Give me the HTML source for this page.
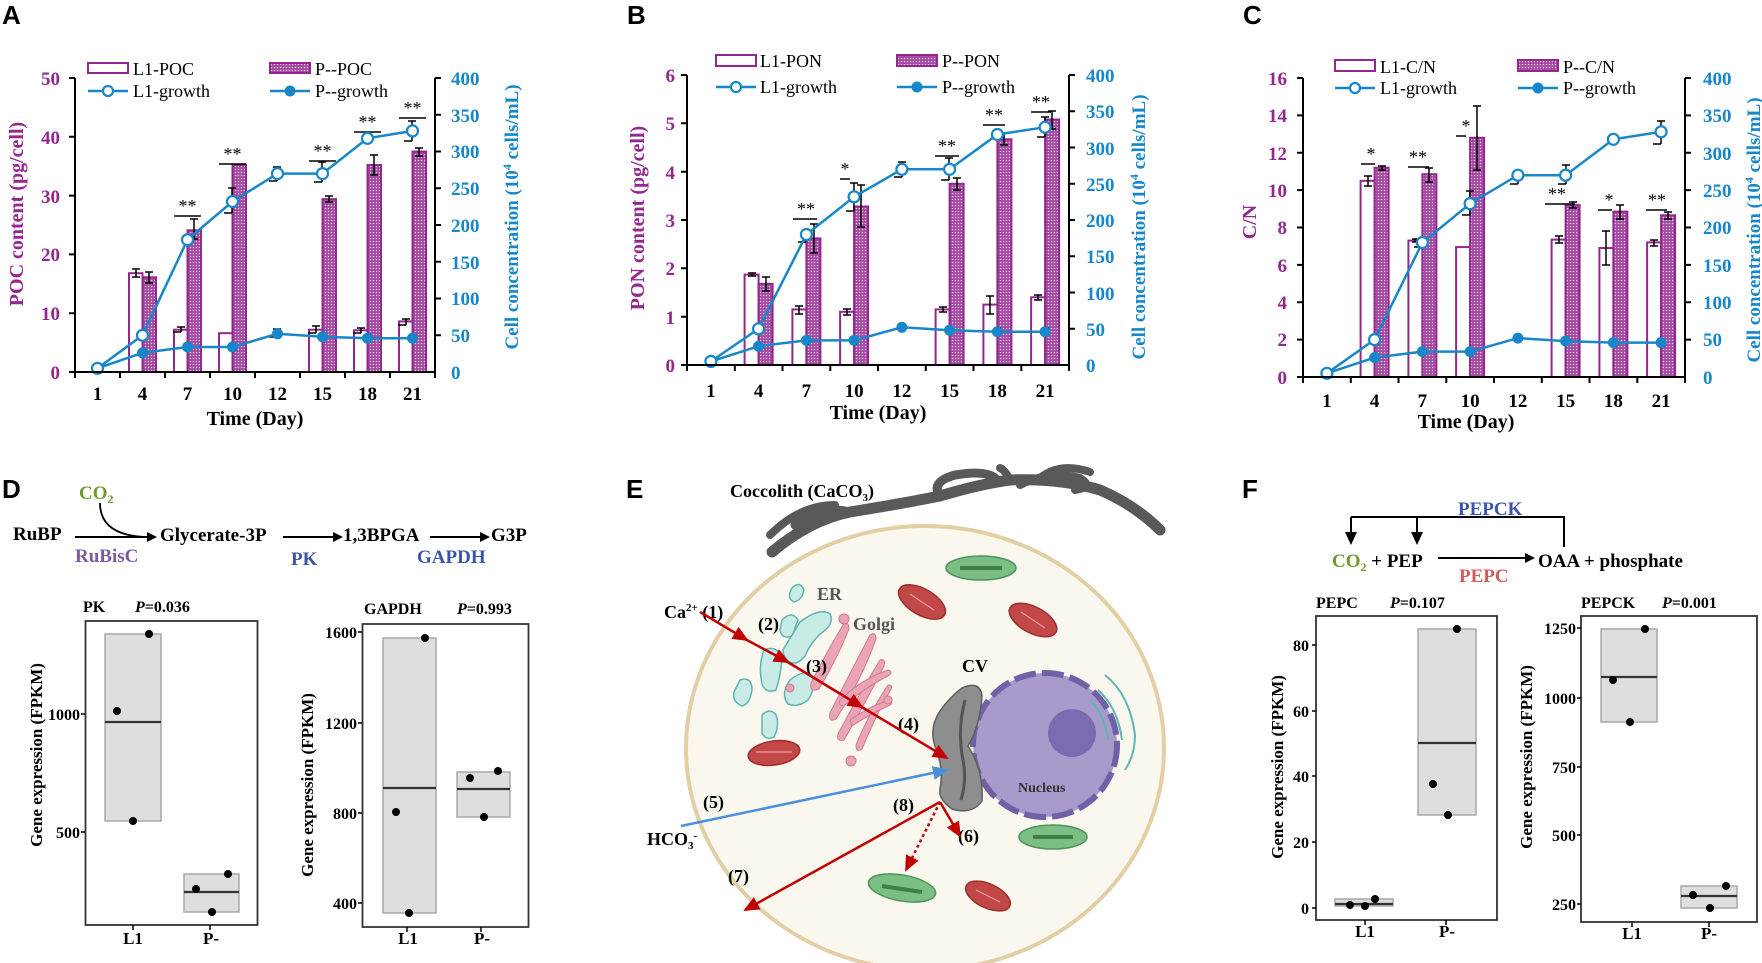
<!DOCTYPE html>
<html><head><meta charset="utf-8"><style>
html,body{margin:0;padding:0;background:#fff;}
svg{display:block;}
.t{font-family:"Liberation Serif",serif;}
.b{font-family:"Liberation Serif",serif;font-weight:bold;}
.pl{fill:#93278F;}
.bl{fill:#1787C9;}
.ax{stroke:#000;stroke-width:2;fill:none;}
.l1{fill:#fff;stroke:#93278F;stroke-width:2;}
.pp{fill:url(#dots);stroke:#93278F;stroke-width:2;}
.gl{fill:none;stroke:#1787C9;stroke-width:2.5;}
.oc{fill:#fff;stroke:#1787C9;stroke-width:2.2;}
.fc{fill:#1787C9;stroke:#1787C9;stroke-width:1;}
.eb{stroke:#000;stroke-width:1.5;fill:none;}
.bx{fill:#DEDEDE;stroke:#A8A8A8;stroke-width:1.5;}
.md{stroke:#333;stroke-width:2.2;}
.fr{fill:none;stroke:#333;stroke-width:1.8;}
</style></head><body>
<svg width="1762" height="963" viewBox="0 0 1762 963" xmlns="http://www.w3.org/2000/svg">
<defs>
<pattern id="dots" width="3" height="3" patternUnits="userSpaceOnUse"><rect width="3" height="3" fill="#A2489F"/><circle cx="1.5" cy="1.5" r="0.8" fill="#E4C4E2"/></pattern>
<marker id="ak" markerWidth="10" markerHeight="10" refX="8" refY="5" orient="auto" markerUnits="userSpaceOnUse"><path d="M0,0 L10,5 L0,10 z" fill="#000"/></marker>
<marker id="ar" markerWidth="16" markerHeight="14" refX="14" refY="7" orient="auto" markerUnits="userSpaceOnUse"><path d="M0,0 L16,7 L0,14 z" fill="#C00000"/></marker>
<marker id="ab" markerWidth="16" markerHeight="14" refX="14" refY="7" orient="auto" markerUnits="userSpaceOnUse"><path d="M0,0 L16,7 L0,14 z" fill="#4A8FDB"/></marker>
</defs>

<!-- ================= PANEL A ================= -->
<text x="2" y="24" font-family="Liberation Sans,sans-serif" font-weight="bold" font-size="26">A</text>
<!-- legend -->
<rect x="88" y="63" width="40" height="10" class="l1"/><text x="133" y="75" class="t" font-size="18">L1-POC</text>
<rect x="270" y="63" width="40" height="10" class="pp"/><text x="315" y="75" class="t" font-size="18">P--POC</text>
<line x1="88" y1="91" x2="128" y2="91" class="gl"/><circle cx="108" cy="91" r="5" class="oc"/><text x="133" y="97" class="t" font-size="18">L1-growth</text>
<line x1="270" y1="91" x2="310" y2="91" class="gl"/><circle cx="290" cy="91" r="5" class="fc"/><text x="315" y="97" class="t" font-size="18">P--growth</text>
<!-- bars -->
<rect x="129" y="273.2" width="13.5" height="98.8" class="l1"/><rect x="142.5" y="277.3" width="13.5" height="94.7" class="pp"/>
<rect x="174" y="329.7" width="13.5" height="42.3" class="l1"/><rect x="187.5" y="230.3" width="13.5" height="141.7" class="pp"/>
<rect x="219" y="333.2" width="13.5" height="38.8" class="l1"/><rect x="232.5" y="165" width="13.5" height="207" class="pp"/>
<rect x="309" y="329.7" width="13.5" height="42.3" class="l1"/><rect x="322.5" y="199.1" width="13.5" height="172.9" class="pp"/>
<rect x="354" y="330.3" width="13.5" height="41.7" class="l1"/><rect x="367.5" y="165" width="13.5" height="207" class="pp"/>
<rect x="399" y="321.4" width="13.5" height="50.6" class="l1"/><rect x="412.5" y="151.5" width="13.5" height="220.5" class="pp"/>
<!-- error bars -->
<path class="eb" d="M136,269v8m-4,-8h8m-4,8h-4h8 M149,272v11m-4,-11h8m-4,11h-4h8 M194,219v20m-4,-20h8m-4,20h-4h8 M181,327v5m-4,-5h8m-4,5h-8h8 M329,196v6m-4,-6h8m-4,6h-4h8 M316,326v7m-4,-7h8m-4,7h-8h8 M374,155v20m-4,-20h8m-4,20h-4h8 M361,328v5m-4,-5h8m-4,5h-8h8 M419,148v8m-4,-8h8m-4,8h-4h8 M406,319v6m-4,-6h8m-4,6h-8h8 M232,188v25m-4,-25h8m-4,25h-8h8 M277,167v14m-4,-14h8m-4,14h-8h8 M322,162v20m-4,-20h8m-4,20h-8h8 M412,121v20m-4,-20h8m-4,20h-8h8 M277,329v8m-4,-8h8m-4,8h-8h8"/>
<!-- sig -->
<path class="eb" d="M174,216h27 M219,164h27 M309,161h27 M354,132h27 M399,118h27"/>
<text x="187.5" y="212" class="t" font-size="18" text-anchor="middle">**</text>
<text x="232.5" y="160" class="t" font-size="18" text-anchor="middle">**</text>
<text x="322.5" y="157" class="t" font-size="18" text-anchor="middle">**</text>
<text x="367.5" y="128" class="t" font-size="18" text-anchor="middle">**</text>
<text x="412.5" y="114" class="t" font-size="18" text-anchor="middle">**</text>
<!-- growth -->
<polyline class="gl" points="97.5,368.3 142.5,352.9 187.5,347 232.5,347 277.5,333.8 322.5,336.7 367.5,338.2 412.5,338.2"/>
<g class="fc"><circle cx="97.5" cy="368.3" r="5"/><circle cx="142.5" cy="352.9" r="5"/><circle cx="187.5" cy="347" r="5"/><circle cx="232.5" cy="347" r="5"/><circle cx="277.5" cy="333.8" r="5"/><circle cx="322.5" cy="336.7" r="5"/><circle cx="367.5" cy="338.2" r="5"/><circle cx="412.5" cy="338.2" r="5"/></g>
<polyline class="gl" points="97.5,368.3 142.5,335.3 187.5,239.7 232.5,201.5 277.5,173.6 322.5,173.6 367.5,138.3 412.5,130.9"/>
<g class="oc"><circle cx="97.5" cy="368.3" r="5.5"/><circle cx="142.5" cy="335.3" r="5.5"/><circle cx="187.5" cy="239.7" r="5.5"/><circle cx="232.5" cy="201.5" r="5.5"/><circle cx="277.5" cy="173.6" r="5.5"/><circle cx="322.5" cy="173.6" r="5.5"/><circle cx="367.5" cy="138.3" r="5.5"/><circle cx="412.5" cy="130.9" r="5.5"/></g>
<!-- axes -->
<path class="ax" d="M75,78V372H435V78 M69,78h6 M69,136.8h6 M69,195.6h6 M69,254.4h6 M69,313.2h6 M69,372h6 M435,78h6 M435,114.8h6 M435,151.5h6 M435,188.3h6 M435,225h6 M435,261.8h6 M435,298.5h6 M435,335.3h6 M75,372v6 M120,372v6 M165,372v6 M210,372v6 M255,372v6 M300,372v6 M345,372v6 M390,372v6 M435,372v6"/>
<g class="b pl" font-size="19" text-anchor="end"><text x="60" y="85">50</text><text x="60" y="144">40</text><text x="60" y="203">30</text><text x="60" y="261">20</text><text x="60" y="320">10</text><text x="60" y="379">0</text></g>
<g class="b bl" font-size="19"><text x="451" y="85">400</text><text x="451" y="122">350</text><text x="451" y="158">300</text><text x="451" y="195">250</text><text x="451" y="232">200</text><text x="451" y="269">150</text><text x="451" y="305">100</text><text x="451" y="342">50</text><text x="451" y="379">0</text></g>
<g class="b" font-size="19" text-anchor="middle"><text x="97.5" y="400">1</text><text x="142.5" y="400">4</text><text x="187.5" y="400">7</text><text x="232.5" y="400">10</text><text x="277.5" y="400">12</text><text x="322.5" y="400">15</text><text x="367.5" y="400">18</text><text x="412.5" y="400">21</text></g>
<text x="255" y="425" class="b" font-size="20" text-anchor="middle">Time (Day)</text>
<text transform="translate(23,214) rotate(-90)" class="b pl" font-size="20" text-anchor="middle">POC content (pg/cell)</text>
<text transform="translate(518,217) rotate(-90)" class="b bl" font-size="19" text-anchor="middle">Cell concentration (10<tspan font-size="12" dy="-7">4</tspan><tspan dy="7"> cells/mL)</tspan></text>

<!-- ================= PANEL B ================= -->
<text x="627" y="24" font-family="Liberation Sans,sans-serif" font-weight="bold" font-size="26">B</text>
<rect x="716" y="55" width="40" height="11" class="l1"/><text x="760" y="67" class="t" font-size="18">L1-PON</text>
<rect x="897" y="55" width="40" height="11" class="pp"/><text x="942" y="67" class="t" font-size="18">P--PON</text>
<line x1="716" y1="87" x2="756" y2="87" class="gl"/><circle cx="736" cy="87" r="5" class="oc"/><text x="760" y="93" class="t" font-size="18">L1-growth</text>
<line x1="897" y1="87" x2="937" y2="87" class="gl"/><circle cx="917" cy="87" r="5" class="fc"/><text x="942" y="93" class="t" font-size="18">P--growth</text>
<rect x="744.6" y="274.6" width="14" height="90.4" class="l1"/><rect x="758.6" y="283.8" width="14" height="81.2" class="pp"/>
<rect x="792.4" y="309.4" width="14" height="55.6" class="l1"/><rect x="806.4" y="238.4" width="14" height="126.6" class="pp"/>
<rect x="840.1" y="311.8" width="14" height="53.2" class="l1"/><rect x="854.1" y="206.5" width="14" height="158.5" class="pp"/>
<rect x="935.6" y="309.4" width="14" height="55.6" class="l1"/><rect x="949.6" y="183.8" width="14" height="181.2" class="pp"/>
<rect x="983.4" y="304.6" width="14" height="60.4" class="l1"/><rect x="997.4" y="139.3" width="14" height="225.7" class="pp"/>
<rect x="1031.1" y="297.3" width="14" height="67.7" class="l1"/><rect x="1045.1" y="119.5" width="14" height="245.5" class="pp"/>
<path class="eb" d="M752,273v3m-4,-3h8m-4,3h-4h8 M766,277v14m-4,-14h8m-4,14h-4h8 M799,306v8m-4,-8h8m-4,8h-4h8 M814,224v29m-4,-29h8m-4,29h-4h8 M847,309v6m-4,-6h8m-4,6h-4h8 M861,185v42m-4,-42h8m-4,42h-4h8 M854,183v28m-4,-28h8m-4,28h-8h8 M902,162v15m-4,-15h8m-4,15h-8h8 M943,307v5m-4,-5h8m-4,5h-4h8 M957,178v12m-4,-12h8m-4,12h-4h8 M949,158v22m-4,-22h8m-4,22h-8h8 M990,296v18m-4,-18h8m-4,18h-4h8 M1004,133v12m-4,-12h8m-4,12h-4h8 M1038,295v5m-4,-5h8m-4,5h-4h8 M1052,111v18m-4,-18h8m-4,18h-4h8 M1045,117v20m-4,-20h8m-4,20h-8h8 M806,230v12m-4,-12h8m-4,12h-8h8"/>
<path class="eb" d="M793,219h24 M840,179h10 M935,156h24 M983,125h22 M1031,112h20"/>
<text x="806" y="215" class="t" font-size="18" text-anchor="middle">**</text>
<text x="845" y="175" class="t" font-size="18" text-anchor="middle">*</text>
<text x="947" y="152" class="t" font-size="18" text-anchor="middle">**</text>
<text x="994" y="121" class="t" font-size="18" text-anchor="middle">**</text>
<text x="1041" y="108" class="t" font-size="18" text-anchor="middle">**</text>
<polyline class="gl" points="710.9,361.4 758.6,346.2 806.4,340.4 854.1,340.4 901.9,327.3 949.6,330.2 997.4,331.7 1045.1,331.7"/>
<g class="fc"><circle cx="710.9" cy="361.4" r="5"/><circle cx="758.6" cy="346.2" r="5"/><circle cx="806.4" cy="340.4" r="5"/><circle cx="854.1" cy="340.4" r="5"/><circle cx="901.9" cy="327.3" r="5"/><circle cx="949.6" cy="330.2" r="5"/><circle cx="997.4" cy="331.7" r="5"/><circle cx="1045.1" cy="331.7" r="5"/></g>
<polyline class="gl" points="710.9,361.4 758.6,328.8 806.4,234.5 854.1,196.8 901.9,169.3 949.6,169.3 997.4,134.5 1045.1,127.2"/>
<g class="oc"><circle cx="710.9" cy="361.4" r="5.5"/><circle cx="758.6" cy="328.8" r="5.5"/><circle cx="806.4" cy="234.5" r="5.5"/><circle cx="854.1" cy="196.8" r="5.5"/><circle cx="901.9" cy="169.3" r="5.5"/><circle cx="949.6" cy="169.3" r="5.5"/><circle cx="997.4" cy="134.5" r="5.5"/><circle cx="1045.1" cy="127.2" r="5.5"/></g>
<path class="ax" d="M687,75V365H1069V75 M681,75h6 M681,123.3h6 M681,171.7h6 M681,220h6 M681,268.3h6 M681,316.7h6 M681,365h6 M1069,75h6 M1069,111.3h6 M1069,147.5h6 M1069,183.8h6 M1069,220h6 M1069,256.3h6 M1069,292.5h6 M1069,328.8h6 M687,365v6 M734.8,365v6 M782.5,365v6 M830.3,365v6 M878,365v6 M925.8,365v6 M973.5,365v6 M1021.3,365v6 M1069,365v6"/>
<g class="b pl" font-size="19" text-anchor="end"><text x="675" y="82">6</text><text x="675" y="130">5</text><text x="675" y="179">4</text><text x="675" y="227">3</text><text x="675" y="275">2</text><text x="675" y="324">1</text><text x="675" y="372">0</text></g>
<g class="b bl" font-size="19"><text x="1086" y="82">400</text><text x="1086" y="118">350</text><text x="1086" y="155">300</text><text x="1086" y="191">250</text><text x="1086" y="227">200</text><text x="1086" y="263">150</text><text x="1086" y="300">100</text><text x="1086" y="336">50</text><text x="1086" y="372">0</text></g>
<g class="b" font-size="19" text-anchor="middle"><text x="710.9" y="397">1</text><text x="758.6" y="397">4</text><text x="806.4" y="397">7</text><text x="854.1" y="397">10</text><text x="901.9" y="397">12</text><text x="949.6" y="397">15</text><text x="997.4" y="397">18</text><text x="1045.1" y="397">21</text></g>
<text x="878" y="419" class="b" font-size="20" text-anchor="middle">Time (Day)</text>
<text transform="translate(644,218) rotate(-90)" class="b pl" font-size="20" text-anchor="middle">PON content (pg/cell)</text>
<text transform="translate(1145,227) rotate(-90)" class="b bl" font-size="19" text-anchor="middle">Cell concentration (10<tspan font-size="12" dy="-7">4</tspan><tspan dy="7"> cells/mL)</tspan></text>

<!-- ================= PANEL C ================= -->
<text x="1243" y="24" font-family="Liberation Sans,sans-serif" font-weight="bold" font-size="26">C</text>
<rect x="1335" y="60" width="40" height="11" class="l1"/><text x="1380" y="73" class="t" font-size="18">L1-C/N</text>
<rect x="1518" y="60" width="40" height="11" class="pp"/><text x="1563" y="73" class="t" font-size="18">P--C/N</text>
<line x1="1335" y1="88" x2="1375" y2="88" class="gl"/><circle cx="1355" cy="88" r="5" class="oc"/><text x="1380" y="94" class="t" font-size="18">L1-growth</text>
<line x1="1518" y1="88" x2="1558" y2="88" class="gl"/><circle cx="1538" cy="88" r="5" class="fc"/><text x="1563" y="94" class="t" font-size="18">P--growth</text>
<rect x="1360.6" y="180.8" width="14" height="196.2" class="l1"/><rect x="1374.6" y="167.7" width="14" height="209.3" class="pp"/>
<rect x="1408.4" y="240.6" width="14" height="136.4" class="l1"/><rect x="1422.4" y="174.2" width="14" height="202.8" class="pp"/>
<rect x="1456.1" y="247.1" width="14" height="129.9" class="l1"/><rect x="1470.1" y="137.8" width="14" height="239.2" class="pp"/>
<rect x="1551.6" y="239.6" width="14" height="137.4" class="l1"/><rect x="1565.6" y="205.1" width="14" height="171.9" class="pp"/>
<rect x="1599.4" y="248" width="14" height="129" class="l1"/><rect x="1613.4" y="211.6" width="14" height="165.4" class="pp"/>
<rect x="1647.1" y="242.4" width="14" height="134.6" class="l1"/><rect x="1661.1" y="215.3" width="14" height="161.7" class="pp"/>
<path class="eb" d="M1368,176v10m-4,-10h8m-4,10h-4h8 M1382,166v4m-4,-4h8m-4,4h-4h8 M1416,239v3m-4,-3h8m-4,3h-4h8 M1429,168v14m-4,-14h8m-4,14h-4h8 M1477,106v64m-4,-64h8m-4,64h-4h8 M1470,191v24m-4,-24h8m-4,24h-8h8 M1518,173v11m-4,-11h8m-4,11h-8h8 M1559,236v7m-4,-7h8m-4,7h-4h8 M1573,202v6m-4,-6h8m-4,6h-4h8 M1566,165v19m-4,-19h8m-4,19h-8h8 M1606,231v34m-4,-34h8m-4,34h-4h8 M1620,205v14m-4,-14h8m-4,14h-4h8 M1654,240v6m-4,-6h8m-4,6h-4h8 M1668,212v7m-4,-7h8m-4,7h-4h8 M1661,121v23m-4,-23h8m-4,23h-8h8 M1422,240v7m-4,-7h8m-4,7h-8h8"/>
<path class="eb" d="M1361,164h14 M1408,167h21 M1456,136h10 M1545,204h30 M1598,210h14 M1646,210h21"/>
<text x="1371" y="160" class="t" font-size="18" text-anchor="middle">*</text>
<text x="1418" y="163" class="t" font-size="18" text-anchor="middle">**</text>
<text x="1466" y="132" class="t" font-size="18" text-anchor="middle">*</text>
<text x="1557" y="200" class="t" font-size="18" text-anchor="middle">**</text>
<text x="1609" y="206" class="t" font-size="18" text-anchor="middle">*</text>
<text x="1657" y="206" class="t" font-size="18" text-anchor="middle">**</text>
<polyline class="gl" points="1326.9,373.3 1374.6,357.6 1422.4,351.6 1470.1,351.6 1517.9,338.1 1565.6,341.1 1613.4,342.6 1661.1,342.6"/>
<g class="fc"><circle cx="1326.9" cy="373.3" r="5"/><circle cx="1374.6" cy="357.6" r="5"/><circle cx="1422.4" cy="351.6" r="5"/><circle cx="1470.1" cy="351.6" r="5"/><circle cx="1517.9" cy="338.1" r="5"/><circle cx="1565.6" cy="341.1" r="5"/><circle cx="1613.4" cy="342.6" r="5"/><circle cx="1661.1" cy="342.6" r="5"/></g>
<polyline class="gl" points="1326.9,373.3 1374.6,339.6 1422.4,242.5 1470.1,203.6 1517.9,175.2 1565.6,175.2 1613.4,139.3 1661.1,131.8"/>
<g class="oc"><circle cx="1326.9" cy="373.3" r="5.5"/><circle cx="1374.6" cy="339.6" r="5.5"/><circle cx="1422.4" cy="242.5" r="5.5"/><circle cx="1470.1" cy="203.6" r="5.5"/><circle cx="1517.9" cy="175.2" r="5.5"/><circle cx="1565.6" cy="175.2" r="5.5"/><circle cx="1613.4" cy="139.3" r="5.5"/><circle cx="1661.1" cy="131.8" r="5.5"/></g>
<path class="ax" d="M1303,78V377H1685V78 M1297,78h6 M1297,115.4h6 M1297,152.8h6 M1297,190.1h6 M1297,227.5h6 M1297,264.9h6 M1297,302.3h6 M1297,339.6h6 M1297,377h6 M1685,78h6 M1685,115.4h6 M1685,152.8h6 M1685,190.1h6 M1685,227.5h6 M1685,264.9h6 M1685,302.3h6 M1685,339.6h6 M1303,377v6 M1350.8,377v6 M1398.5,377v6 M1446.3,377v6 M1494,377v6 M1541.8,377v6 M1589.5,377v6 M1637.3,377v6 M1685,377v6"/>
<g class="b pl" font-size="19" text-anchor="end"><text x="1287" y="85">16</text><text x="1287" y="122">14</text><text x="1287" y="160">12</text><text x="1287" y="197">10</text><text x="1287" y="234">8</text><text x="1287" y="272">6</text><text x="1287" y="309">4</text><text x="1287" y="346">2</text><text x="1287" y="384">0</text></g>
<g class="b bl" font-size="19"><text x="1703" y="85">400</text><text x="1703" y="122">350</text><text x="1703" y="160">300</text><text x="1703" y="197">250</text><text x="1703" y="234">200</text><text x="1703" y="272">150</text><text x="1703" y="309">100</text><text x="1703" y="346">50</text><text x="1703" y="384">0</text></g>
<g class="b" font-size="19" text-anchor="middle"><text x="1326.9" y="407">1</text><text x="1374.6" y="407">4</text><text x="1422.4" y="407">7</text><text x="1470.1" y="407">10</text><text x="1517.9" y="407">12</text><text x="1565.6" y="407">15</text><text x="1613.4" y="407">18</text><text x="1661.1" y="407">21</text></g>
<text x="1466" y="428" class="b" font-size="20" text-anchor="middle">Time (Day)</text>
<text transform="translate(1256,222) rotate(-90)" class="b pl" font-size="20" text-anchor="middle">C/N</text>
<text transform="translate(1760,230) rotate(-90)" class="b bl" font-size="19" text-anchor="middle">Cell concentration (10<tspan font-size="12" dy="-7">4</tspan><tspan dy="7"> cells/mL)</tspan></text>

<!-- ================= PANEL D ================= -->
<text x="2" y="498" font-family="Liberation Sans,sans-serif" font-weight="bold" font-size="26">D</text>
<text x="79" y="499" class="b" font-size="19" fill="#6E9A2F">CO<tspan font-size="12" dy="4">2</tspan></text>
<path d="M100,503 Q100,535 145,537" fill="none" stroke="#000" stroke-width="1.8"/>
<text x="13" y="540" class="b" font-size="19">RuBP</text>
<line x1="75" y1="537" x2="155" y2="537" stroke="#000" stroke-width="2" marker-end="url(#ak)"/>
<text x="160" y="541" class="b" font-size="19">Glycerate-3P</text>
<line x1="283" y1="537" x2="341" y2="537" stroke="#000" stroke-width="2" marker-end="url(#ak)"/>
<text x="343" y="541" class="b" font-size="19">1,3BPGA</text>
<line x1="430" y1="537" x2="488" y2="537" stroke="#000" stroke-width="2" marker-end="url(#ak)"/>
<text x="491" y="541" class="b" font-size="19">G3P</text>
<text x="75" y="562" class="b" font-size="19" fill="#7B5BA0">RuBisC</text>
<text x="291" y="565" class="b" font-size="19" fill="#3A55A8">PK</text>
<text x="417" y="563" class="b" font-size="19" fill="#3A55A8">GAPDH</text>
<!-- PK box -->
<text x="83" y="612" class="b" font-size="16">PK</text><text x="135" y="612" class="b" font-size="16"><tspan font-style="italic">P</tspan>=0.036</text>
<rect x="85.5" y="621" width="172" height="304" class="fr"/>
<rect x="105" y="634" width="56" height="187" class="bx"/><line x1="105" y1="722" x2="161" y2="722" class="md"/>
<rect x="184" y="874" width="55" height="38" class="bx"/><line x1="184" y1="892" x2="239" y2="892" class="md"/>
<g fill="#000"><circle cx="149" cy="634" r="4"/><circle cx="117" cy="711" r="4"/><circle cx="133" cy="821" r="4"/><circle cx="228" cy="874" r="4"/><circle cx="196" cy="889" r="4"/><circle cx="212" cy="912" r="4"/></g>
<path class="eb" d="M81,714h4 M81,832h4 M133,925v5 M210,925v5"/>
<g class="b" font-size="16" text-anchor="end"><text x="80" y="720">1000</text><text x="80" y="838">500</text></g>
<g class="b" font-size="17" text-anchor="middle"><text x="133" y="944">L1</text><text x="211" y="944">P-</text></g>
<text transform="translate(42,755) rotate(-90)" class="b" font-size="17" text-anchor="middle">Gene expression (FPKM)</text>
<!-- GAPDH box -->
<text x="364" y="614" class="b" font-size="16">GAPDH</text><text x="457" y="614" class="b" font-size="16"><tspan font-style="italic">P</tspan>=0.993</text>
<rect x="362.5" y="624" width="166" height="303" class="fr"/>
<rect x="383" y="638" width="53" height="275" class="bx"/><line x1="383" y1="788" x2="436" y2="788" class="md"/>
<rect x="457" y="772" width="53" height="45" class="bx"/><line x1="457" y1="789" x2="510" y2="789" class="md"/>
<g fill="#000"><circle cx="425" cy="638" r="4"/><circle cx="396" cy="812" r="4"/><circle cx="409" cy="913" r="4"/><circle cx="470" cy="778" r="4"/><circle cx="498" cy="771" r="4"/><circle cx="484" cy="817" r="4"/></g>
<path class="eb" d="M358,632h4 M358,723h4 M358,813h4 M358,903h4 M407,927v5 M481,927v5"/>
<g class="b" font-size="16" text-anchor="end"><text x="357" y="638">1600</text><text x="357" y="729">1200</text><text x="357" y="819">800</text><text x="357" y="909">400</text></g>
<g class="b" font-size="17" text-anchor="middle"><text x="408" y="944">L1</text><text x="482" y="944">P-</text></g>
<text transform="translate(313,785) rotate(-90)" class="b" font-size="17" text-anchor="middle">Gene expression (FPKM)</text>

<!-- ================= PANEL E ================= -->
<text x="626" y="498" font-family="Liberation Sans,sans-serif" font-weight="bold" font-size="26">E</text>
<text x="730" y="497" class="b" font-size="18">Coccolith (CaCO<tspan font-size="11" dy="4">3</tspan><tspan dy="-4">)</tspan></text>
<!-- coccoliths -->
<g fill="none" stroke="#59595B" stroke-linecap="round" stroke-linejoin="round">
<path d="M772,552 Q810,520 850,512 Q900,504 940,496 Q980,484 1010,480 Q1060,478 1100,490 Q1135,505 1160,530" stroke-width="11"/>
<path d="M850,512 Q820,505 795,525" stroke-width="9"/>
<path d="M770,535 Q800,505 835,505" stroke-width="8"/>
<path d="M940,496 Q930,482 955,475 Q985,470 995,478" stroke-width="9"/>
<path d="M1010,480 Q1005,470 1000,468 M1020,485 Q1050,470 1080,478 Q1095,487 1075,490" stroke-width="8"/>
<path d="M1040,478 Q1060,462 1090,472" stroke-width="8"/>
</g>
<ellipse cx="925" cy="748" rx="239" ry="222" fill="#FAF7EE" stroke="#E3CFA6" stroke-width="4"/>
<!-- ER -->
<g fill="#C9EBE6" stroke="#5FB5B0" stroke-width="1.5">
<path d="M792,588 q8,-8 12,2 q-2,10 -10,12 q-8,-4 -2,-14z"/>
<path d="M782,620 q10,-10 16,0 l-6,16 q-10,4 -12,-6z"/>
<path d="M800,622 q20,-15 30,-8 q5,10 -10,20 q-10,10 -15,22 q-8,10 -16,6 q-6,-5 -6,-12 z"/>
<path d="M764,650 q14,-6 18,10 q-2,18 -6,30 q-10,4 -14,-6 q-4,-18 2,-34z"/>
<path d="M790,680 q16,-12 22,-4 q4,12 -4,24 q-10,8 -20,4 q-8,-10 2,-24z"/>
<path d="M740,680 q12,-4 12,10 q-2,14 -10,16 q-10,-4 -8,-14z"/>
<path d="M762,715 q8,-8 14,0 q4,10 -2,22 q-8,4 -12,-4z"/>
</g>
<!-- Golgi -->
<g fill="#EBA4B6" stroke="#D07890" stroke-width="1">
<path d="M843,625 q6,-4 6,4 q-12,30 -30,60 q-10,4 -8,-6 q14,-28 32,-58z"/>
<path d="M870,635 q6,-4 6,4 q-14,40 -40,80 q-8,4 -6,-6 q20,-40 40,-78z"/>
<path d="M880,660 q6,-2 4,6 q-18,36 -40,74 q-8,2 -6,-6 q20,-38 42,-74z"/>
<path d="M888,685 q6,0 2,6 q-14,24 -28,58 q-6,4 -6,-4 q12,-30 32,-60z"/>
<path d="M840,700 q20,-20 48,-30 q6,2 0,6 q-24,12 -44,30 q-6,0 -4,-6z"/>
<path d="M850,720 q20,-14 40,-20 q4,4 -2,6 q-18,8 -36,20z"/>
<circle cx="844" cy="619" r="5"/><circle cx="790" cy="688" r="4"/><circle cx="888" cy="700" r="4"/><circle cx="851" cy="761" r="5"/>
</g>
<!-- mitochondria -->
<g fill="#C24848" stroke="#9C2E2E" stroke-width="1.5">
<ellipse cx="774" cy="753" rx="26" ry="12" transform="rotate(-8 774 753)"/>
<ellipse cx="922" cy="602" rx="26" ry="13" transform="rotate(30 922 602)"/>
<ellipse cx="1033" cy="620" rx="26" ry="13" transform="rotate(28 1033 620)"/>
<ellipse cx="988" cy="896" rx="24" ry="12" transform="rotate(25 988 896)"/>
</g>
<g stroke="#F29AA0" stroke-width="1.2"><path d="M756,752h36 M910,594l24,16 M1021,612l24,16 M976,890l24,12"/></g>
<!-- chloroplasts -->
<g fill="#7CBF84" stroke="#4E9458" stroke-width="1.5">
<ellipse cx="981" cy="568" rx="35" ry="12"/>
<ellipse cx="1053" cy="837" rx="34" ry="12"/>
<ellipse cx="902" cy="888" rx="34" ry="13" transform="rotate(10 902 888)"/>
</g>
<g stroke="#3E8045" stroke-width="4"><path d="M960,568h42 M1033,837h40 M882,886l40,6"/></g>
<!-- nucleus -->
<circle cx="1045" cy="745" r="72" fill="#A89BCB" stroke="#6F61A6" stroke-width="6" stroke-dasharray="22 6"/>
<circle cx="1072" cy="733" r="24" fill="#7C6BB0"/>
<!-- ER near nucleus -->
<path d="M1105,675 q25,20 30,60 q0,20 -10,35 M1098,690 q20,18 24,50 M1090,700 q15,15 18,40" fill="none" stroke="#5FB5B0" stroke-width="2"/>
<!-- CV -->
<path d="M962,688 q18,-8 20,8 q-2,30 -14,50 q16,25 14,55 q-10,14 -30,8 q-14,-10 -12,-20 q4,-20 -4,-40 q-8,-20 4,-38 q10,-14 22,-23z" fill="#8E8E8E" stroke="#5E5E5E" stroke-width="1.5"/>
<path d="M965,700 q-8,30 -2,60 q4,20 -2,40" stroke="#555" stroke-width="3" fill="none"/>
<!-- labels -->
<g class="b" font-size="18">
<text x="817" y="600" fill="#555">ER</text>
<text x="853" y="630" fill="#555">Golgi</text>
<text x="962" y="672">CV</text>
<text x="1018" y="792" font-size="14" fill="#333">Nucleus</text>
<text x="664" y="618">Ca<tspan font-size="11" dy="-7">2+</tspan><tspan dy="7"> (1)</tspan></text>
<text x="758" y="630">(2)</text>
<text x="806" y="672">(3)</text>
<text x="898" y="730">(4)</text>
<text x="703" y="808">(5)</text>
<text x="647" y="845">HCO<tspan font-size="11" dy="4">3</tspan><tspan font-size="11" dy="-10">-</tspan></text>
<text x="958" y="842">(6)</text>
<text x="728" y="882">(7)</text>
<text x="893" y="811">(8)</text>
</g>
<!-- arrows -->
<g stroke="#C00000" stroke-width="2.5" fill="none">
<line x1="700" y1="612" x2="747" y2="640" marker-end="url(#ar)"/>
<line x1="745" y1="639" x2="788" y2="662" marker-end="url(#ar)"/>
<line x1="786" y1="661" x2="862" y2="707" marker-end="url(#ar)"/>
<line x1="860" y1="706" x2="947" y2="758" marker-end="url(#ar)"/>
<line x1="940" y1="802" x2="960" y2="836" marker-end="url(#ar)"/>
<line x1="940" y1="802" x2="745" y2="910" marker-end="url(#ar)"/>
<line x1="940" y1="802" x2="906" y2="870" stroke-dasharray="3 3" marker-end="url(#ar)"/>
</g>
<line x1="681" y1="826" x2="947" y2="770" stroke="#4A8FDB" stroke-width="2.5" marker-end="url(#ab)"/>

<!-- ================= PANEL F ================= -->
<text x="1242" y="498" font-family="Liberation Sans,sans-serif" font-weight="bold" font-size="26">F</text>
<text x="1458" y="515" class="b" font-size="19" fill="#3A55A8">PEPCK</text>
<path d="M1351,517H1564V547 M1351,517V535 M1417,517V535" fill="none" stroke="#000" stroke-width="2"/>
<path d="M1345,532h12l-6,13z M1411,532h12l-6,13z" fill="#000"/>
<text x="1332" y="567" class="b" font-size="19"><tspan fill="#6E9A2F">CO<tspan font-size="12" dy="4">2</tspan></tspan><tspan dy="-4"> + PEP</tspan></text>
<line x1="1438" y1="558" x2="1533" y2="558" stroke="#000" stroke-width="2" marker-end="url(#ak)"/>
<text x="1538" y="567" class="b" font-size="19">OAA + phosphate</text>
<text x="1459" y="582" class="b" font-size="19" fill="#D45A5A">PEPC</text>
<!-- PEPC box -->
<text x="1316" y="608" class="b" font-size="16">PEPC</text><text x="1390" y="608" class="b" font-size="16"><tspan font-style="italic">P</tspan>=0.107</text>
<rect x="1316" y="616" width="181" height="304" class="fr"/>
<rect x="1335" y="899" width="58" height="7" class="bx"/><line x1="1335" y1="904" x2="1393" y2="904" class="md"/>
<rect x="1418" y="629" width="58" height="186" class="bx"/><line x1="1418" y1="743" x2="1476" y2="743" class="md"/>
<g fill="#000"><circle cx="1350" cy="905" r="4"/><circle cx="1365" cy="906" r="4"/><circle cx="1375" cy="899" r="4"/><circle cx="1457" cy="629" r="4"/><circle cx="1433" cy="784" r="4"/><circle cx="1448" cy="815" r="4"/></g>
<path class="eb" d="M1312,645h4 M1312,711h4 M1312,776h4 M1312,842h4 M1312,908h4 M1365,920v5 M1446,920v5"/>
<g class="b" font-size="16" text-anchor="end"><text x="1309" y="651">80</text><text x="1309" y="717">60</text><text x="1309" y="782">40</text><text x="1309" y="848">20</text><text x="1309" y="914">0</text></g>
<g class="b" font-size="17" text-anchor="middle"><text x="1365" y="937">L1</text><text x="1447" y="937">P-</text></g>
<text transform="translate(1283,767) rotate(-90)" class="b" font-size="17" text-anchor="middle">Gene expression (FPKM)</text>
<!-- PEPCK box -->
<text x="1581" y="608" class="b" font-size="16">PEPCK</text><text x="1662" y="608" class="b" font-size="16"><tspan font-style="italic">P</tspan>=0.001</text>
<rect x="1581" y="616" width="176" height="306" class="fr"/>
<rect x="1601" y="629" width="56" height="93" class="bx"/><line x1="1601" y1="677" x2="1657" y2="677" class="md"/>
<rect x="1681" y="886" width="56" height="22" class="bx"/><line x1="1681" y1="896" x2="1737" y2="896" class="md"/>
<g fill="#000"><circle cx="1645" cy="629" r="4"/><circle cx="1613" cy="680" r="4"/><circle cx="1630" cy="722" r="4"/><circle cx="1693" cy="895" r="4"/><circle cx="1726" cy="886" r="4"/><circle cx="1710" cy="908" r="4"/></g>
<path class="eb" d="M1577,628h4 M1577,698h4 M1577,767h4 M1577,835h4 M1577,904h4 M1632,922v5 M1709,922v5"/>
<g class="b" font-size="16" text-anchor="end"><text x="1576" y="634">1250</text><text x="1576" y="704">1000</text><text x="1576" y="773">750</text><text x="1576" y="841">500</text><text x="1576" y="910">250</text></g>
<g class="b" font-size="17" text-anchor="middle"><text x="1632" y="939">L1</text><text x="1709" y="939">P-</text></g>
<text transform="translate(1532,757) rotate(-90)" class="b" font-size="17" text-anchor="middle">Gene expression (FPKM)</text>
</svg>
</body></html>
